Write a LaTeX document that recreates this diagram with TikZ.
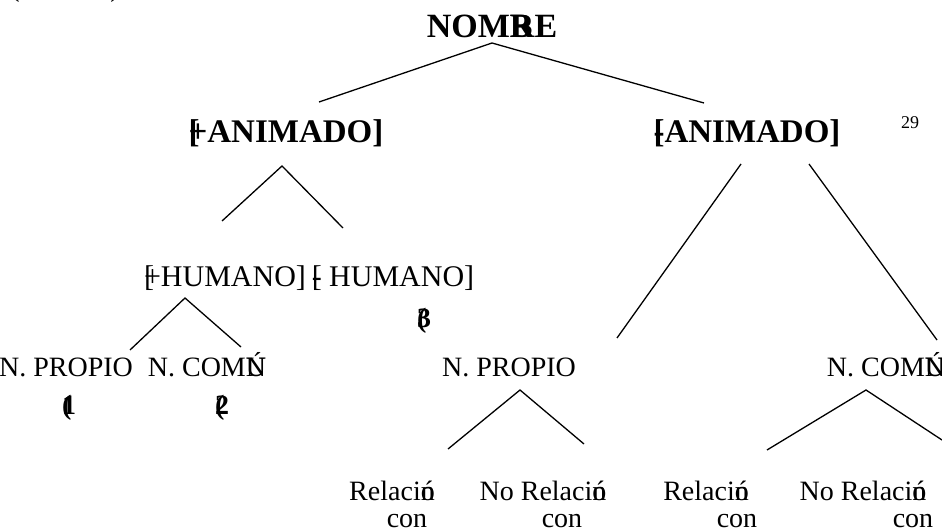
\documentclass[tikz,border=0pt]{standalone}
\usepackage{fontspec}
\setmainfont{Liberation Serif}
\newfontfamily\tnr{Liberation Serif}
\tikzset{
  lbl/.style={inner sep=0pt, anchor=base},
  bigb/.style={lbl, font=\tnr\fontsize{33}{36}\selectfont\bfseries},
  hum/.style={lbl, font=\tnr\fontsize{30}{34}\selectfont},
  nl/.style={lbl, font=\tnr\fontsize{28}{32}\selectfont},
  num/.style={lbl, font=\tnr\fontsize{28}{32}\selectfont\bfseries},
  bot/.style={lbl, font=\tnr\fontsize{28}{32}\selectfont},
  edge/.style={line width=1.3pt, black},
}
\begin{document}
\begin{tikzpicture}[x=1pt,y=-1pt]
\useasboundingbox (0,0) rectangle (942,529);
% cut-off parentheses at the top
\node[nl] (pl) at (15,-3) {(};
\node[nl] (pr) at (115,-3) {)};
% labels
\node[bigb, font=\tnr\fontsize{34}{36}\selectfont\bfseries] (root) at (492,38) {NOM\rlap{B}RE};
\node[bigb] (lanim) at (286,143) {\rlap{[}+ANIMADO]};
\node[bigb] (ranim) at (747,143) {\rlap{[}-ANIMADO]};
\node[lbl, font=\tnr\fontsize{18}{20}\selectfont] (pg) at (910,129) {29};
\node[hum] (lhum) at (225,287) {\rlap{[}+HUMANO]};
\node[hum] (rhum) at (393,287) {\rlap{[}- HUMANO]};
\node[num] (n3) at (424,327) {\rlap{(}3};
\node[nl] (lprop) at (66,376) {N. PROPIO};
\node[nl] (lcom) at (207,376) {N. COM\rlap{Ú}N};
\node[num] (n1) at (69,414) {\rlap{(}1};
\node[num] (n2) at (222,414) {\rlap{(}2};
\node[nl] (mprop) at (509,376) {N. PROPIO};
\node[nl] (rcom) at (886,376) {N. COM\rlap{Ú}N};
\node[bot] (r1) at (392,500) {Relaci\rlap{ó}n};
\node[bot] (c1) at (407,527) {con};
\node[bot] (nr1) at (543,500) {No Relaci\rlap{ó}n};
\node[bot] (c2) at (562,527) {con};
\node[bot] (r2) at (706,500) {Relaci\rlap{ó}n};
\node[bot] (c3) at (737,527) {con};
\node[bot] (nr2) at (863,500) {No Relaci\rlap{ó}n};
\node[bot] (c4) at (913,527) {con};
% connector end points
\coordinate (a0) at (492,43);
\coordinate (a1) at (319,102);
\coordinate (a2) at (704,103);
\coordinate (b0) at (282,166);
\coordinate (b1) at (222,221);
\coordinate (b2) at (343,228);
\coordinate (c0a) at (741,164);
\coordinate (c1a) at (617,338);
\coordinate (c0b) at (809,164);
\coordinate (c2b) at (937,340);
\coordinate (d0) at (185,298);
\coordinate (d1) at (130,350);
\coordinate (d2) at (241,347);
\coordinate (e0) at (520,390);
\coordinate (e1) at (448,449);
\coordinate (e2) at (584,444);
\coordinate (f0) at (866,390);
\coordinate (f1) at (767,450);
\coordinate (f2) at (942,440);
% connectors
\draw[edge] (a1) -- (a0) -- (a2);
\draw[edge] (b1) -- (b0) -- (b2);
\draw[edge] (c0a) -- (c1a);
\draw[edge] (c0b) -- (c2b);
\draw[edge] (d1) -- (d0) -- (d2);
\draw[edge] (e1) -- (e0) -- (e2);
\draw[edge] (f1) -- (f0) -- (f2);
\end{tikzpicture}
\end{document}
